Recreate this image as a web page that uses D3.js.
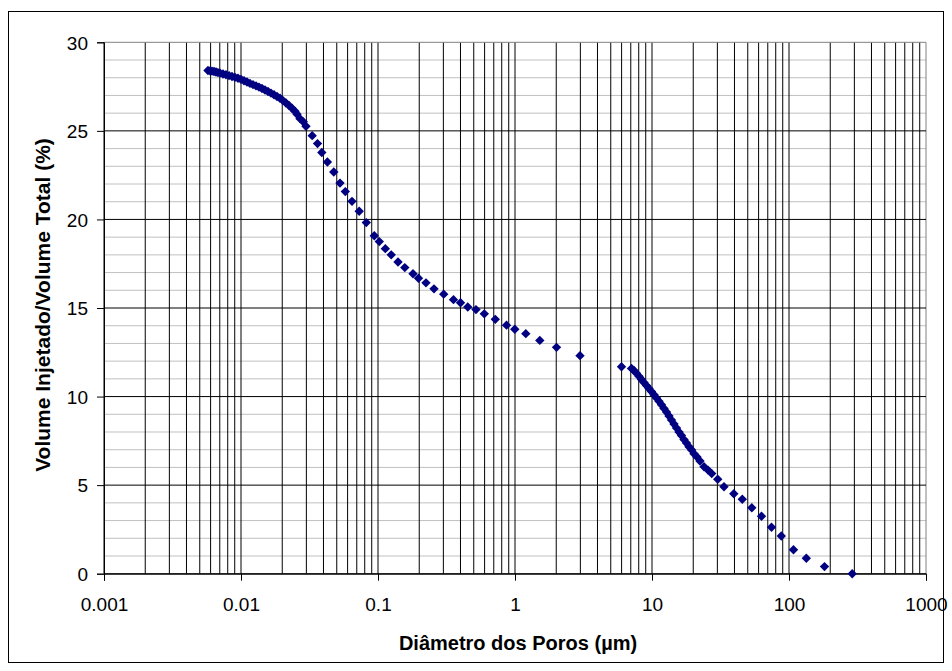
<!DOCTYPE html>
<html>
<head>
<meta charset="utf-8">
<script src="https://cdn.jsdelivr.net/npm/d3@7"></script>
<style>
  body { margin: 0; background: #fff; }
</style>
</head>
<body>
<div id="chart"></div>
<script>
// pore diameter (µm)
var diameters = [
  0.00574, 0.00594, 0.00614, 0.00635, 0.00657, 0.00679, 0.00703, 0.00739, 0.00777, 0.00818,
  0.00860, 0.00904, 0.00951, 0.0100, 0.01052, 0.01106, 0.01163, 0.01224, 0.01287, 0.01353,
  0.01423, 0.01497, 0.01574, 0.01656, 0.01741, 0.01831, 0.01926, 0.02025, 0.02130, 0.02240,
  0.02356, 0.02477, 0.02564, 0.02696, 0.02849, 0.02981, 0.03309, 0.03618, 0.03889, 0.04272,
  0.04757, 0.05281, 0.05773, 0.06460, 0.07292, 0.08215, 0.09397, 0.1022, 0.1131, 0.1249,
  0.1400, 0.1569, 0.1801, 0.1975, 0.2240, 0.2563, 0.3018, 0.3557, 0.4002, 0.4521,
  0.5191, 0.5969, 0.7181, 0.8670, 0.9966, 1.199, 1.517, 2.009, 2.982,
  5.99, 7.087, 7.389, 7.706, 8.037, 8.383, 8.742, 9.118, 9.509, 9.917,
  10.34, 10.79, 11.25, 11.73, 12.24, 12.76, 13.31, 13.88, 14.47, 15.10,
  15.74, 16.42, 17.12, 17.86, 18.63, 19.49, 20.26, 21.31, 22.40, 23.97,
  25.63, 27.28, 30.18, 33.54, 39.55, 45.61, 53.52, 63.00, 74.53, 87.86,
  107.8, 133.8, 181.6, 289.3
];

// injected volume / total volume (%)
var volumes = [
  28.41, 28.39, 28.37, 28.35, 28.32, 28.29, 28.26, 28.21, 28.17, 28.12,
  28.07, 28.02, 27.97, 27.91, 27.83, 27.76, 27.68, 27.61, 27.54, 27.47,
  27.39, 27.31, 27.22, 27.13, 27.04, 26.94, 26.84, 26.71, 26.57, 26.43,
  26.28, 26.11, 25.94, 25.69, 25.51, 25.26, 24.73, 24.28, 23.78, 23.24,
  22.68, 22.05, 21.57, 21.02, 20.46, 19.82, 19.08, 18.75, 18.35, 18.00,
  17.60, 17.28, 16.93, 16.68, 16.42, 16.08, 15.78, 15.47, 15.30, 15.06,
  14.91, 14.67, 14.36, 14.03, 13.80, 13.55, 13.17, 12.78, 12.31,
  11.68, 11.59, 11.47, 11.31, 11.14, 10.96, 10.79, 10.62, 10.45, 10.28,
  10.10, 9.92, 9.73, 9.54, 9.33, 9.13, 8.90, 8.67, 8.45, 8.22,
  8.00, 7.80, 7.57, 7.38, 7.17, 6.98, 6.77, 6.59, 6.36, 6.04,
  5.85, 5.65, 5.33, 4.91, 4.51, 4.20, 3.72, 3.24, 2.62, 2.13,
  1.35, 0.87, 0.40, 0.0
];

var xTicks = [0.001, 0.01, 0.1, 1, 10, 100, 1000];
var xTickLabels = ['0.001', '0.01', '0.1', '1', '10', '100', '1000'];
var yTicks = [0, 5, 10, 15, 20, 25, 30];
var yMinorTicks = d3.range(0, 31, 1);

var xTitle = 'Diâmetro dos Poros (µm)';
var yTitle = 'Volume Injetado/Volume Total (%)';

function renderScatter(params) {
  var attrs = {
    svgWidth: 952,
    svgHeight: 671,
    marginTop: 42.3,
    marginBottom: 97.3,
    marginRight: 26,
    marginLeft: 104,
    defaultFont: 'Arial, "Liberation Sans", sans-serif',
    container: '#chart'
  };

  var calc = {};
  calc.chartWidth = attrs.svgWidth - attrs.marginLeft - attrs.marginRight;
  calc.chartHeight = attrs.svgHeight - attrs.marginTop - attrs.marginBottom;

  var svg = d3.select(attrs.container).append('svg')
    .attr('width', attrs.svgWidth)
    .attr('height', attrs.svgHeight)
    .attr('font-family', attrs.defaultFont);

  // outer chart border
  svg.append('rect')
    .attr('x', 8.5).attr('y', 11.5)
    .attr('width', 935).attr('height', 651)
    .attr('fill', '#fff')
    .attr('stroke', '#000')
    .attr('stroke-width', 1);

  var chart = svg.append('g')
    .attr('transform', 'translate(' + attrs.marginLeft + ',' + attrs.marginTop + ')');

  var x = d3.scaleLog().domain([0.001, 1000]).range([0, calc.chartWidth]);
  var y = d3.scaleLinear().domain([0, 30]).range([calc.chartHeight, 0]);

  // minor horizontal gridlines
  chart.selectAll('.y-minor').data(yMinorTicks.filter(function (d) { return d % 5 !== 0; }))
    .enter().append('line')
    .attr('class', 'y-minor')
    .attr('x1', 0).attr('x2', calc.chartWidth)
    .attr('y1', function (d) { return y(d); })
    .attr('y2', function (d) { return y(d); })
    .attr('stroke', '#c0c0c0');

  // vertical gridlines at each log step
  var xGrid = [];
  for (var p = -3; p < 3; p++) {
    for (var m = 1; m <= 9; m++) xGrid.push(m * Math.pow(10, p));
  }
  xGrid.push(1000);
  chart.selectAll('.x-grid').data(xGrid)
    .enter().append('line')
    .attr('class', 'x-grid')
    .attr('x1', function (d) { return x(d); })
    .attr('x2', function (d) { return x(d); })
    .attr('y1', 0).attr('y2', calc.chartHeight)
    .attr('stroke', function (d) { return d === 1000 ? '#808080' : '#000'; })
    .attr('stroke-width', 1);

  // major horizontal gridlines
  chart.selectAll('.y-major').data(yTicks)
    .enter().append('line')
    .attr('class', 'y-major')
    .attr('x1', 0).attr('x2', calc.chartWidth)
    .attr('y1', function (d) { return y(d); })
    .attr('y2', function (d) { return y(d); })
    .attr('stroke', function (d) { return d === 30 ? '#808080' : '#000'; });

  // axes
  var yAxis = chart.append('g')
    .call(d3.axisLeft(y).tickValues(yTicks).tickSize(7).tickPadding(9).tickFormat(d3.format('d')));
  var xAxis = chart.append('g')
    .attr('transform', 'translate(0,' + calc.chartHeight + ')')
    .call(d3.axisBottom(x).tickValues(xTicks).tickSize(7).tickPadding(17)
      .tickFormat(function (d, i) { return xTickLabels[i]; }));

  [xAxis, yAxis].forEach(function (a) {
    a.select('.domain').attr('stroke', '#000').attr('stroke-width', 1);
    a.selectAll('.tick line').attr('stroke', '#000');
    a.selectAll('.tick text')
      .attr('fill', '#000')
      .attr('font-size', '19px')
      .attr('font-family', attrs.defaultFont);
  });
  yAxis.selectAll('.tick text').attr('dy', '0.36em');

  // axis titles
  svg.append('text')
    .attr('x', attrs.marginLeft + calc.chartWidth / 2 + 3)
    .attr('y', 650)
    .attr('text-anchor', 'middle')
    .attr('font-size', '20px')
    .attr('font-weight', 'bold')
    .text(xTitle);

  svg.append('text')
    .attr('transform', 'translate(50,' + (attrs.marginTop + calc.chartHeight / 2 - 3) + ') rotate(-90)')
    .attr('text-anchor', 'middle')
    .attr('font-size', '21px')
    .attr('font-weight', 'bold')
    .text(yTitle);

  // points
  var points = diameters.map(function (d, i) { return { x: d, y: volumes[i] }; });
  var marker = d3.symbol().type(d3.symbolSquare).size(44);
  chart.selectAll('.pt').data(points)
    .enter().append('path')
    .attr('class', 'pt')
    .attr('d', marker)
    .attr('transform', function (d) { return 'translate(' + x(d.x) + ',' + y(d.y) + ') rotate(45)'; })
    .attr('fill', '#000080');
}

renderScatter();
</script>
</body>
</html>
